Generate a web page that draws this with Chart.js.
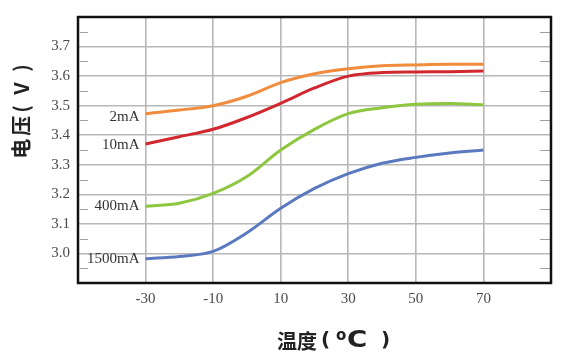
<!DOCTYPE html>
<html>
<head>
<meta charset="utf-8">
<script src="https://cdn.jsdelivr.net/npm/chart.js@4"></script>
<style>
html,body{margin:0;padding:0;background:#fff;}
#wrap{width:570px;height:360px;position:relative;}
</style>
</head>
<body>
<div id="wrap"><canvas id="c"></canvas></div>
<script>
const temps = [-30, -20, -10, 0, 10, 20, 30, 40, 50, 60, 70];
const v2mA = [3.473, 3.485, 3.50, 3.532, 3.578, 3.608, 3.625, 3.635, 3.638, 3.64, 3.64];
const v10mA = [3.37, 3.395, 3.42, 3.46, 3.508, 3.56, 3.60, 3.612, 3.614, 3.615, 3.617];
const v400mA = [3.16, 3.17, 3.203, 3.26, 3.35, 3.42, 3.473, 3.493, 3.505, 3.507, 3.503];
const v1500mA = [2.982, 2.99, 3.007, 3.07, 3.153, 3.22, 3.27, 3.305, 3.325, 3.34, 3.35];
const seriesNames = ['2mA', '10mA', '400mA', '1500mA'];
const seriesColors = ['#F08C3C', '#D0282E', '#8DC63F', '#5B79BF'];
const xTitleParts = ['温度', '(', 'o', 'C', ')'];
const yTitle = '电压( V )';
const xTickHidden = [-50, 90];
const yTickHidden = [2.9, 3.8];

const mk = (vals) => temps.map((t, i) => ({x: t, y: vals[i]}));
const allVals = [v2mA, v10mA, v400mA, v1500mA];

const textColor = '#4a4a4a';
const serif = '"Liberation Serif", "DejaVu Serif", serif';
const cjkBold = 'bold 20px "Noto Sans CJK SC", "Noto Sans", sans-serif';

const deco = {
  id: 'deco',
  afterDatasetsDraw(chart) {
    const ctx = chart.ctx;
    const a = chart.chartArea;
    const ys = chart.scales.y;
    ctx.save();
    // minor ticks inside on both sides
    ctx.strokeStyle = '#a0a0a0';
    ctx.lineWidth = 1;
    for (let v = 2.95; v < 3.8; v += 0.1) {
      const py = Math.round(ys.getPixelForValue(v)) + 0.5;
      ctx.beginPath();
      ctx.moveTo(a.left + 2, py); ctx.lineTo(a.left + 10, py);
      ctx.moveTo(a.right - 11, py); ctx.lineTo(a.right - 1, py);
      ctx.stroke();
    }
    // border
    ctx.strokeStyle = '#111';
    ctx.lineWidth = 2.5;
    ctx.strokeRect(a.left, a.top, a.right - a.left, a.bottom - a.top);
    // series labels
    ctx.fillStyle = '#333';
    ctx.font = '15px ' + serif;
    ctx.textAlign = 'right';
    ctx.textBaseline = 'middle';
    chart.data.datasets.forEach((ds, i) => {
      const meta = chart.getDatasetMeta(i);
      const p = meta.data[0];
      const dy = i === 0 ? 3 : (i === 1 ? 1 : 0);
      ctx.fillText(ds.label, p.x - 6, p.y + dy);
    });
    // x axis title, drawn piece by piece
    ctx.fillStyle = '#222';
    ctx.textAlign = 'left';
    ctx.textBaseline = 'middle';
    const x0 = 277, yc = 341;
    ctx.font = cjkBold;
    ctx.fillText(xTitleParts[0], x0, yc);
    ctx.font = 'bold 20px "DejaVu Sans", sans-serif';
    ctx.fillText(xTitleParts[1], x0 + 44, yc);
    ctx.font = 'bold 15px "DejaVu Sans", sans-serif';
    ctx.fillText(xTitleParts[2], x0 + 59, yc - 5);
    ctx.save();
    ctx.translate(x0 + 70, yc);
    ctx.scale(1.2, 1);
    ctx.font = 'bold 23px "DejaVu Sans", sans-serif';
    ctx.fillText(xTitleParts[3], 0, 0);
    ctx.restore();
    ctx.font = 'bold 20px "DejaVu Sans", sans-serif';
    ctx.fillText(xTitleParts[4], x0 + 104, yc);
    // y axis title
    ctx.textAlign = 'center';
    ctx.font = cjkBold;
    ctx.translate(21, 110);
    ctx.rotate(-Math.PI / 2);
    try { ctx.letterSpacing = '3px'; } catch (e) {}
    ctx.fillText(yTitle, 0, 0);
    ctx.restore();
  }
};

new Chart(document.getElementById('c'), {
  type: 'line',
  data: {
    datasets: allVals.map((vals, i) => ({
      label: seriesNames[i],
      data: mk(vals),
      borderColor: seriesColors[i],
      backgroundColor: seriesColors[i],
      borderWidth: 3,
      pointRadius: 0,
      cubicInterpolationMode: 'monotone',
      fill: false
    }))
  },
  options: {
    responsive: true,
    maintainAspectRatio: false,
    animation: false,
    layout: {padding: {top: 16, right: 19, left: 0, bottom: 0}},
    plugins: {legend: {display: false}, tooltip: {enabled: false}},
    scales: {
      x: {
        type: 'linear',
        min: -50, max: 90,
        afterFit(s) { s.height = 77; },
        ticks: {
          stepSize: 20,
          color: textColor,
          font: {family: serif, size: 15},
          padding: 7,
          maxRotation: 0,
          callback: (v) => xTickHidden.includes(v) ? '' : String(v)
        },
        grid: {color: '#b8b8b8', lineWidth: 1.6, drawTicks: false},
        border: {display: false}
      },
      y: {
        min: 2.9, max: 3.8,
        afterFit(s) { s.width = 78; },
        ticks: {
          stepSize: 0.1,
          color: textColor,
          font: {family: serif, size: 15},
          padding: 8,
          callback: (v) => {
            const r = Math.round(v * 10) / 10;
            return yTickHidden.includes(r) ? '' : r.toFixed(1);
          }
        },
        grid: {color: '#b8b8b8', lineWidth: 1.6, drawTicks: false},
        border: {display: false}
      }
    }
  },
  plugins: [deco]
});
</script>
</body>
</html>
